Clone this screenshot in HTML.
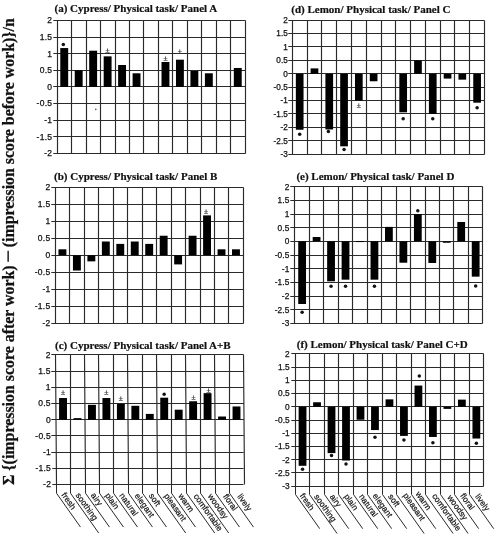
<!DOCTYPE html><html><head><meta charset="utf-8"><style>
*{margin:0;padding:0}
html,body{width:498px;height:550px;overflow:hidden;background:#fff}
svg{display:block;filter:blur(0.3px)}
.t{font-family:"Liberation Serif",serif;font-weight:bold;font-size:11px;fill:#111;stroke:#111;stroke-width:0.2px}
.k{font-family:"Liberation Sans",sans-serif;font-size:8.1px;fill:#111;stroke:#111;stroke-width:0.25px;text-anchor:end;letter-spacing:0.4px}
.x{font-family:"Liberation Sans",sans-serif;font-size:8.4px;fill:#111;stroke:#111;stroke-width:0.2px}
.pm{font-family:"Liberation Sans",sans-serif;font-size:7.5px;fill:#333;stroke:#333;stroke-width:0.2px;text-anchor:middle}
.y{font-family:"Liberation Serif",serif;font-weight:bold;font-size:15.9px;fill:#111;stroke:#111;stroke-width:0.25px}
</style></head><body><svg width="498" height="550" viewBox="0 0 498 550">
<rect width="498" height="550" fill="#fff"/>
<text x="54.5" y="12.1" class="t">(a) Cypress/ Physical task/ Panel A</text>
<path d="M53.30 20.50H245.50 M53.30 37.50H245.50 M53.30 53.50H245.50 M53.30 70.50H245.50 M53.30 86.50H245.50 M53.30 103.50H245.50 M53.30 120.50H245.50 M53.30 136.50H245.50 M53.30 153.50H245.50 M57.50 20.50L57.50 153.50 M71.50 20.50L71.50 153.50 M86.50 20.50L86.50 153.50 M100.50 20.50L100.50 153.50 M115.50 20.50L115.50 153.50 M129.50 20.50L129.50 153.50 M143.50 20.50L143.50 153.50 M158.50 20.50L158.50 153.50 M172.50 20.50L172.50 153.50 M187.50 20.50L187.50 153.50 M201.50 20.50L201.50 153.50 M216.50 20.50L216.50 153.50 M230.50 20.50L230.50 153.50 M245.50 20.50L245.50 153.50" stroke="#2a2a2a" stroke-width="1.15" fill="none"/>
<text x="52.25" y="23.30" class="k" style="letter-spacing:0.25px;font-size:8.5px">2</text>
<text x="52.25" y="39.90" class="k" style="letter-spacing:0.25px;font-size:8.5px">1.5</text>
<text x="52.25" y="56.50" class="k" style="letter-spacing:0.25px;font-size:8.5px">1</text>
<text x="52.25" y="73.10" class="k" style="letter-spacing:0.25px;font-size:8.5px">0.5</text>
<text x="52.25" y="89.70" class="k" style="letter-spacing:0.25px;font-size:8.5px">0</text>
<text x="52.25" y="106.30" class="k" style="letter-spacing:0.25px;font-size:8.5px">-0.5</text>
<text x="52.25" y="122.90" class="k" style="letter-spacing:0.25px;font-size:8.5px">-1</text>
<text x="52.25" y="139.50" class="k" style="letter-spacing:0.25px;font-size:8.5px">-1.5</text>
<text x="52.25" y="156.10" class="k" style="letter-spacing:0.25px;font-size:8.5px">-2</text>
<rect x="60.28" y="48.06" width="7.90" height="38.84" fill="#000"/>
<rect x="74.74" y="70.30" width="7.90" height="16.60" fill="#000"/>
<rect x="89.20" y="50.71" width="7.90" height="36.19" fill="#000"/>
<rect x="103.67" y="56.36" width="7.90" height="30.54" fill="#000"/>
<rect x="118.13" y="64.99" width="7.90" height="21.91" fill="#000"/>
<rect x="132.59" y="73.29" width="7.90" height="13.61" fill="#000"/>
<rect x="161.51" y="62.00" width="7.90" height="24.90" fill="#000"/>
<rect x="175.97" y="59.68" width="7.90" height="27.22" fill="#000"/>
<rect x="190.43" y="70.96" width="7.90" height="15.94" fill="#000"/>
<rect x="204.90" y="73.29" width="7.90" height="13.61" fill="#000"/>
<rect x="233.82" y="67.98" width="7.90" height="18.92" fill="#000"/>
<circle cx="63.33" cy="44.40" r="1.75" fill="#111"/>
<text x="107.62" y="53.00" class="pm">±</text>
<text x="165.46" y="60.90" class="pm">±</text>
<text x="179.92" y="53.60" class="pm">±</text>
<text x="54.0" y="180.1" class="t">(b) Cypress/ Physical task/ Panel B</text>
<path d="M51.30 187.50H243.50 M51.30 204.50H243.50 M51.30 221.50H243.50 M51.30 238.50H243.50 M51.30 255.50H243.50 M51.30 272.50H243.50 M51.30 289.50H243.50 M51.30 306.50H243.50 M51.30 323.50H243.50 M55.50 187.50L55.50 323.50 M69.50 187.50L69.50 323.50 M84.50 187.50L84.50 323.50 M98.50 187.50L98.50 323.50 M113.50 187.50L113.50 323.50 M127.50 187.50L127.50 323.50 M142.50 187.50L142.50 323.50 M156.50 187.50L156.50 323.50 M171.50 187.50L171.50 323.50 M185.50 187.50L185.50 323.50 M200.50 187.50L200.50 323.50 M214.50 187.50L214.50 323.50 M228.50 187.50L228.50 323.50 M243.50 187.50L243.50 323.50" stroke="#2a2a2a" stroke-width="1.15" fill="none"/>
<text x="50.45" y="190.20" class="k" style="letter-spacing:0.25px;font-size:8.5px">2</text>
<text x="50.45" y="207.16" class="k" style="letter-spacing:0.25px;font-size:8.5px">1.5</text>
<text x="50.45" y="224.13" class="k" style="letter-spacing:0.25px;font-size:8.5px">1</text>
<text x="50.45" y="241.09" class="k" style="letter-spacing:0.25px;font-size:8.5px">0.5</text>
<text x="50.45" y="258.05" class="k" style="letter-spacing:0.25px;font-size:8.5px">0</text>
<text x="50.45" y="275.01" class="k" style="letter-spacing:0.25px;font-size:8.5px">-0.5</text>
<text x="50.45" y="291.98" class="k" style="letter-spacing:0.25px;font-size:8.5px">-1</text>
<text x="50.45" y="308.94" class="k" style="letter-spacing:0.25px;font-size:8.5px">-1.5</text>
<text x="50.45" y="325.90" class="k" style="letter-spacing:0.25px;font-size:8.5px">-2</text>
<rect x="58.48" y="249.31" width="7.90" height="5.94" fill="#000"/>
<rect x="72.94" y="255.25" width="7.90" height="15.27" fill="#000"/>
<rect x="87.40" y="255.25" width="7.90" height="6.11" fill="#000"/>
<rect x="101.87" y="241.51" width="7.90" height="13.74" fill="#000"/>
<rect x="116.33" y="243.89" width="7.90" height="11.36" fill="#000"/>
<rect x="130.79" y="241.51" width="7.90" height="13.74" fill="#000"/>
<rect x="145.25" y="243.89" width="7.90" height="11.36" fill="#000"/>
<rect x="159.71" y="235.74" width="7.90" height="19.51" fill="#000"/>
<rect x="174.17" y="255.25" width="7.90" height="9.16" fill="#000"/>
<rect x="188.63" y="235.74" width="7.90" height="19.51" fill="#000"/>
<rect x="203.10" y="215.39" width="7.90" height="39.86" fill="#000"/>
<rect x="217.56" y="249.31" width="7.90" height="5.94" fill="#000"/>
<rect x="232.02" y="249.31" width="7.90" height="5.94" fill="#000"/>
<text x="206.05" y="213.80" class="pm">±</text>
<text x="55.0" y="348.7" class="t">(c) Cypress/ Physical task/ Panel A+B</text>
<path d="M51.30 354.50H243.50 M51.30 371.50H243.50 M51.30 387.50H243.50 M51.30 403.50H243.50 M51.30 419.50H243.50 M51.30 435.50H243.50 M51.30 452.50H243.50 M52.30 468.50H243.50 M52.30 484.50H243.50 M55.50 354.50L56.50 484.50 M70.50 354.50L70.50 484.50 M84.50 354.50L85.50 484.50 M98.50 354.50L99.50 484.50 M113.50 354.50L113.50 484.50 M127.50 354.50L128.50 484.50 M142.50 354.50L142.50 484.50 M156.50 354.50L157.50 484.50 M171.50 354.50L171.50 484.50 M185.50 354.50L186.50 484.50 M200.50 354.50L200.50 484.50 M214.50 354.50L215.50 484.50 M229.50 354.50L229.50 484.50 M243.50 354.50L244.50 484.50" stroke="#2a2a2a" stroke-width="1.15" fill="none"/>
<text x="50.65" y="357.70" class="k" style="letter-spacing:0.25px;font-size:8.5px">2</text>
<text x="50.71" y="373.91" class="k" style="letter-spacing:0.25px;font-size:8.5px">1.5</text>
<text x="50.77" y="390.12" class="k" style="letter-spacing:0.25px;font-size:8.5px">1</text>
<text x="50.84" y="406.34" class="k" style="letter-spacing:0.25px;font-size:8.5px">0.5</text>
<text x="50.90" y="422.55" class="k" style="letter-spacing:0.25px;font-size:8.5px">0</text>
<text x="50.96" y="438.76" class="k" style="letter-spacing:0.25px;font-size:8.5px">-0.5</text>
<text x="51.02" y="454.98" class="k" style="letter-spacing:0.25px;font-size:8.5px">-1</text>
<text x="51.09" y="471.19" class="k" style="letter-spacing:0.25px;font-size:8.5px">-1.5</text>
<text x="51.15" y="487.40" class="k" style="letter-spacing:0.25px;font-size:8.5px">-2</text>
<rect x="59.09" y="398.03" width="7.90" height="21.72" fill="#000"/>
<rect x="73.58" y="418.13" width="7.90" height="1.62" fill="#000"/>
<rect x="88.01" y="404.83" width="7.90" height="14.92" fill="#000"/>
<rect x="102.45" y="398.03" width="7.90" height="21.72" fill="#000"/>
<rect x="116.91" y="403.86" width="7.90" height="15.89" fill="#000"/>
<rect x="131.37" y="405.81" width="7.90" height="13.94" fill="#000"/>
<rect x="145.84" y="413.91" width="7.90" height="5.84" fill="#000"/>
<rect x="160.26" y="397.70" width="7.90" height="22.05" fill="#000"/>
<rect x="174.74" y="409.70" width="7.90" height="10.05" fill="#000"/>
<rect x="189.18" y="401.27" width="7.90" height="18.48" fill="#000"/>
<rect x="203.61" y="393.16" width="7.90" height="26.59" fill="#000"/>
<rect x="218.11" y="416.51" width="7.90" height="3.24" fill="#000"/>
<rect x="232.55" y="406.46" width="7.90" height="13.29" fill="#000"/>
<text x="62.97" y="395.30" class="pm">±</text>
<text x="106.34" y="395.30" class="pm">±</text>
<text x="120.81" y="401.00" class="pm">±</text>
<circle cx="164.16" cy="394.20" r="1.75" fill="#111"/>
<text x="193.58" y="400.40" class="pm">±</text>
<text x="208.50" y="392.70" class="pm">±</text>
<text x="61.05" y="495.13" class="x" transform="rotate(54.7 61.05 495.13)">fresh</text>
<text x="75.29" y="495.25" class="x" transform="rotate(54.7 75.29 495.25)">soothing</text>
<text x="90.54" y="495.37" class="x" transform="rotate(54.7 90.54 495.37)">airy</text>
<text x="104.78" y="495.49" class="x" transform="rotate(54.7 104.78 495.49)">plain</text>
<text x="119.03" y="495.61" class="x" transform="rotate(54.7 119.03 495.61)">natural</text>
<text x="134.27" y="495.73" class="x" transform="rotate(54.7 134.27 495.73)">elegant</text>
<text x="148.52" y="495.85" class="x" transform="rotate(54.7 148.52 495.85)">soft</text>
<text x="163.76" y="495.97" class="x" transform="rotate(54.7 163.76 495.97)">pleasant</text>
<text x="178.01" y="496.09" class="x" transform="rotate(54.7 178.01 496.09)">warm</text>
<text x="193.25" y="496.21" class="x" transform="rotate(54.7 193.25 496.21)">comfortable</text>
<text x="207.50" y="496.33" class="x" transform="rotate(54.7 207.50 496.33)">woodsy</text>
<text x="222.74" y="496.45" class="x" transform="rotate(54.7 222.74 496.45)">floral</text>
<text x="236.99" y="496.57" class="x" transform="rotate(54.7 236.99 496.57)">lively</text>
<path d="M56.50 484.60V493.20L80.48 527.07 M70.50 484.60V493.20L98.70 533.03 M85.50 484.60V493.20L109.48 527.07 M99.50 484.60V493.20L123.48 527.07 M113.50 484.60V493.20L137.48 527.07 M128.50 484.60V493.20L152.48 527.07 M142.50 484.60V493.20L166.48 527.07 M157.50 484.60V493.20L185.70 533.03 M171.50 484.60V493.20L195.48 527.07 M186.50 484.60V493.20L214.70 533.03 M200.50 484.60V493.20L228.70 533.03 M215.50 484.60V493.20L239.48 527.07 M229.50 484.60V493.20L253.48 527.07" stroke="#2a2a2a" stroke-width="1.0" fill="none"/>
<text x="291.3" y="13.1" class="t">(d) Lemon/ Physical task/ Panel C</text>
<path d="M288.30 20.50H484.50 M288.30 33.50H484.50 M288.30 46.50H484.50 M288.30 60.50H484.50 M288.30 73.50H484.50 M288.30 87.50H484.50 M288.30 100.50H484.50 M288.30 113.50H484.50 M288.30 127.50H484.50 M288.30 140.50H484.50 M288.30 154.50H484.50 M292.50 20.50L292.50 154.50 M307.50 20.50L307.50 154.50 M321.50 20.50L321.50 154.50 M336.50 20.50L336.50 154.50 M351.50 20.50L351.50 154.50 M366.50 20.50L366.50 154.50 M381.50 20.50L381.50 154.50 M395.50 20.50L395.50 154.50 M410.50 20.50L410.50 154.50 M425.50 20.50L425.50 154.50 M440.50 20.50L440.50 154.50 M454.50 20.50L454.50 154.50 M469.50 20.50L469.50 154.50 M484.50 20.50L484.50 154.50" stroke="#2a2a2a" stroke-width="1.15" fill="none"/>
<text x="287.85" y="23.00" class="k" style="letter-spacing:0.05px;font-size:8.2px">2</text>
<text x="287.85" y="36.39" class="k" style="letter-spacing:0.05px;font-size:8.2px">1.5</text>
<text x="287.85" y="49.78" class="k" style="letter-spacing:0.05px;font-size:8.2px">1</text>
<text x="287.85" y="63.17" class="k" style="letter-spacing:0.05px;font-size:8.2px">0.5</text>
<text x="287.85" y="76.56" class="k" style="letter-spacing:0.05px;font-size:8.2px">0</text>
<text x="287.85" y="89.95" class="k" style="letter-spacing:0.05px;font-size:8.2px">-0.5</text>
<text x="287.85" y="103.34" class="k" style="letter-spacing:0.05px;font-size:8.2px">-1</text>
<text x="287.85" y="116.73" class="k" style="letter-spacing:0.05px;font-size:8.2px">-1.5</text>
<text x="287.85" y="130.12" class="k" style="letter-spacing:0.05px;font-size:8.2px">-2</text>
<text x="287.85" y="143.51" class="k" style="letter-spacing:0.05px;font-size:8.2px">-2.5</text>
<text x="287.85" y="156.90" class="k" style="letter-spacing:0.05px;font-size:8.2px">-3</text>
<rect x="295.84" y="73.76" width="7.70" height="55.97" fill="#000"/>
<rect x="310.63" y="68.40" width="7.70" height="5.36" fill="#000"/>
<rect x="325.41" y="73.76" width="7.70" height="55.70" fill="#000"/>
<rect x="340.20" y="73.76" width="7.70" height="72.57" fill="#000"/>
<rect x="354.98" y="73.76" width="7.70" height="26.78" fill="#000"/>
<rect x="369.77" y="73.76" width="7.70" height="7.50" fill="#000"/>
<rect x="399.33" y="73.76" width="7.70" height="38.56" fill="#000"/>
<rect x="414.12" y="60.37" width="7.70" height="13.39" fill="#000"/>
<rect x="428.90" y="73.76" width="7.70" height="40.17" fill="#000"/>
<rect x="443.69" y="73.76" width="7.70" height="4.82" fill="#000"/>
<rect x="458.47" y="73.76" width="7.70" height="5.89" fill="#000"/>
<rect x="473.26" y="73.76" width="7.70" height="28.92" fill="#000"/>
<circle cx="299.69" cy="134.20" r="1.75" fill="#111"/>
<circle cx="328.36" cy="131.60" r="1.75" fill="#111"/>
<circle cx="344.05" cy="149.60" r="1.75" fill="#111"/>
<text x="358.83" y="108.10" class="pm">±</text>
<circle cx="403.18" cy="118.70" r="1.75" fill="#111"/>
<circle cx="432.75" cy="118.70" r="1.75" fill="#111"/>
<circle cx="477.11" cy="107.80" r="1.75" fill="#111"/>
<text x="296.4" y="180.2" class="t">(e) Lemon/ Physical task/ Panel D</text>
<path d="M290.30 186.50H482.50 M290.30 200.50H482.50 M290.30 214.50H482.50 M290.30 227.50H482.50 M290.30 241.50H482.50 M290.30 255.50H482.50 M290.30 268.50H482.50 M290.30 282.50H482.50 M290.30 296.50H482.50 M290.30 309.50H482.50 M290.30 323.50H482.50 M294.50 186.50L294.50 323.50 M309.50 186.50L309.50 323.50 M323.50 186.50L323.50 323.50 M338.50 186.50L338.50 323.50 M352.50 186.50L352.50 323.50 M367.50 186.50L367.50 323.50 M381.50 186.50L381.50 323.50 M396.50 186.50L396.50 323.50 M410.50 186.50L410.50 323.50 M425.50 186.50L425.50 323.50 M439.50 186.50L439.50 323.50 M453.50 186.50L453.50 323.50 M468.50 186.50L468.50 323.50 M482.50 186.50L482.50 323.50" stroke="#2a2a2a" stroke-width="1.15" fill="none"/>
<text x="289.40" y="189.50" class="k" style="letter-spacing:0.1px;font-size:8.3px">2</text>
<text x="289.40" y="203.17" class="k" style="letter-spacing:0.1px;font-size:8.3px">1.5</text>
<text x="289.40" y="216.84" class="k" style="letter-spacing:0.1px;font-size:8.3px">1</text>
<text x="289.40" y="230.51" class="k" style="letter-spacing:0.1px;font-size:8.3px">0.5</text>
<text x="289.40" y="244.18" class="k" style="letter-spacing:0.1px;font-size:8.3px">0</text>
<text x="289.40" y="257.85" class="k" style="letter-spacing:0.1px;font-size:8.3px">-0.5</text>
<text x="289.40" y="271.52" class="k" style="letter-spacing:0.1px;font-size:8.3px">-1</text>
<text x="289.40" y="285.19" class="k" style="letter-spacing:0.1px;font-size:8.3px">-1.5</text>
<text x="289.40" y="298.86" class="k" style="letter-spacing:0.1px;font-size:8.3px">-2</text>
<text x="289.40" y="312.53" class="k" style="letter-spacing:0.1px;font-size:8.3px">-2.5</text>
<text x="289.40" y="326.20" class="k" style="letter-spacing:0.1px;font-size:8.3px">-3</text>
<rect x="298.23" y="241.38" width="7.80" height="62.61" fill="#000"/>
<rect x="312.69" y="237.01" width="7.80" height="4.37" fill="#000"/>
<rect x="327.15" y="241.38" width="7.80" height="39.92" fill="#000"/>
<rect x="341.62" y="241.38" width="7.80" height="38.28" fill="#000"/>
<rect x="356.08" y="241.08" width="7.80" height="1.00" fill="#000"/>
<rect x="370.54" y="241.38" width="7.80" height="38.28" fill="#000"/>
<rect x="385.00" y="226.89" width="7.80" height="14.49" fill="#000"/>
<rect x="399.46" y="241.38" width="7.80" height="21.33" fill="#000"/>
<rect x="413.92" y="214.04" width="7.80" height="27.34" fill="#000"/>
<rect x="428.38" y="241.38" width="7.80" height="21.60" fill="#000"/>
<rect x="442.85" y="241.38" width="7.80" height="1.37" fill="#000"/>
<rect x="457.31" y="221.97" width="7.80" height="19.41" fill="#000"/>
<rect x="471.77" y="241.38" width="7.80" height="35.27" fill="#000"/>
<circle cx="302.13" cy="312.30" r="1.75" fill="#111"/>
<circle cx="331.05" cy="286.20" r="1.75" fill="#111"/>
<circle cx="345.52" cy="286.20" r="1.75" fill="#111"/>
<circle cx="374.44" cy="286.20" r="1.75" fill="#111"/>
<circle cx="417.82" cy="210.80" r="1.75" fill="#111"/>
<circle cx="475.67" cy="286.00" r="1.75" fill="#111"/>
<text x="296.8" y="348.4" class="t">(f) Lemon/ Physical task/ Panel C+D</text>
<path d="M291.30 353.50H483.50 M291.30 367.50H483.50 M291.30 380.50H483.50 M291.30 393.50H483.50 M291.30 406.50H483.50 M291.30 420.50H483.50 M291.30 433.50H483.50 M291.30 446.50H483.50 M291.30 459.50H483.50 M291.30 472.50H483.50 M291.30 486.50H483.50 M295.50 353.50L295.50 486.50 M309.50 353.50L309.50 486.50 M324.50 353.50L324.50 486.50 M338.50 353.50L338.50 486.50 M353.50 353.50L353.50 486.50 M367.50 353.50L367.50 486.50 M382.50 353.50L382.50 486.50 M396.50 353.50L396.50 486.50 M411.50 353.50L411.50 486.50 M425.50 353.50L425.50 486.50 M440.50 353.50L440.50 486.50 M454.50 353.50L454.50 486.50 M469.50 353.50L469.50 486.50 M483.50 353.50L483.50 486.50" stroke="#2a2a2a" stroke-width="1.15" fill="none"/>
<text x="289.80" y="356.60" class="k" style="letter-spacing:0.1px;font-size:8.3px">2</text>
<text x="289.80" y="369.84" class="k" style="letter-spacing:0.1px;font-size:8.3px">1.5</text>
<text x="289.80" y="383.08" class="k" style="letter-spacing:0.1px;font-size:8.3px">1</text>
<text x="289.80" y="396.32" class="k" style="letter-spacing:0.1px;font-size:8.3px">0.5</text>
<text x="289.80" y="409.56" class="k" style="letter-spacing:0.1px;font-size:8.3px">0</text>
<text x="289.80" y="422.80" class="k" style="letter-spacing:0.1px;font-size:8.3px">-0.5</text>
<text x="289.80" y="436.04" class="k" style="letter-spacing:0.1px;font-size:8.3px">-1</text>
<text x="289.80" y="449.28" class="k" style="letter-spacing:0.1px;font-size:8.3px">-1.5</text>
<text x="289.80" y="462.52" class="k" style="letter-spacing:0.1px;font-size:8.3px">-2</text>
<text x="289.80" y="475.76" class="k" style="letter-spacing:0.1px;font-size:8.3px">-2.5</text>
<text x="289.80" y="489.00" class="k" style="letter-spacing:0.1px;font-size:8.3px">-3</text>
<rect x="298.64" y="406.76" width="7.80" height="59.05" fill="#000"/>
<rect x="313.13" y="402.26" width="7.80" height="4.50" fill="#000"/>
<rect x="327.61" y="406.76" width="7.80" height="46.34" fill="#000"/>
<rect x="342.10" y="406.76" width="7.80" height="53.75" fill="#000"/>
<rect x="356.58" y="406.76" width="7.80" height="12.98" fill="#000"/>
<rect x="371.07" y="406.76" width="7.80" height="23.30" fill="#000"/>
<rect x="385.55" y="399.35" width="7.80" height="7.41" fill="#000"/>
<rect x="400.03" y="406.76" width="7.80" height="29.13" fill="#000"/>
<rect x="414.52" y="385.58" width="7.80" height="21.18" fill="#000"/>
<rect x="429.00" y="406.76" width="7.80" height="30.19" fill="#000"/>
<rect x="443.49" y="406.76" width="7.80" height="2.12" fill="#000"/>
<rect x="457.97" y="399.61" width="7.80" height="7.15" fill="#000"/>
<rect x="472.46" y="406.76" width="7.80" height="31.78" fill="#000"/>
<circle cx="302.54" cy="469.20" r="1.75" fill="#111"/>
<circle cx="331.51" cy="455.40" r="1.75" fill="#111"/>
<circle cx="346.00" cy="463.90" r="1.75" fill="#111"/>
<circle cx="374.97" cy="437.30" r="1.75" fill="#111"/>
<circle cx="403.93" cy="439.90" r="1.75" fill="#111"/>
<circle cx="419.32" cy="376.00" r="1.75" fill="#111"/>
<circle cx="432.90" cy="442.70" r="1.75" fill="#111"/>
<circle cx="476.36" cy="443.20" r="1.75" fill="#111"/>
<text x="299.45" y="495.75" class="x" transform="rotate(54.7 299.45 495.75)">fresh</text>
<text x="313.84" y="496.82" class="x" transform="rotate(54.7 313.84 496.82)">soothing</text>
<text x="329.42" y="496.78" class="x" transform="rotate(54.7 329.42 496.78)">airy</text>
<text x="343.83" y="496.49" class="x" transform="rotate(54.7 343.83 496.49)">plain</text>
<text x="358.66" y="496.60" class="x" transform="rotate(54.7 358.66 496.60)">natural</text>
<text x="372.37" y="495.83" class="x" transform="rotate(54.7 372.37 495.83)">elegant</text>
<text x="387.83" y="496.49" class="x" transform="rotate(54.7 387.83 496.49)">soft</text>
<text x="402.66" y="495.59" class="x" transform="rotate(54.7 402.66 495.59)">pleasant</text>
<text x="415.32" y="494.00" class="x" transform="rotate(54.7 415.32 494.00)">warm</text>
<text x="431.64" y="495.91" class="x" transform="rotate(54.7 431.64 495.91)">comfortable</text>
<text x="447.10" y="497.42" class="x" transform="rotate(54.7 447.10 497.42)">woodsy</text>
<text x="459.95" y="495.79" class="x" transform="rotate(54.7 459.95 495.79)">floral</text>
<text x="474.83" y="496.49" class="x" transform="rotate(54.7 474.83 496.49)">lively</text>
<path d="M295.50 486.20V494.50L319.71 528.70 M309.50 486.20V494.50L337.12 533.51 M324.50 486.20V494.50L348.71 528.70 M338.50 486.20V494.50L362.71 528.70 M353.50 486.20V494.50L377.71 528.70 M367.50 486.20V494.50L391.71 528.70 M382.50 486.20V494.50L406.71 528.70 M396.50 486.20V494.50L424.12 533.51 M411.50 486.20V494.50L435.71 528.70 M425.50 486.20V494.50L453.12 533.51 M440.50 486.20V494.50L468.12 533.51 M454.50 486.20V494.50L478.71 528.70 M469.50 486.20V494.50L493.71 528.70" stroke="#2a2a2a" stroke-width="1.0" fill="none"/>
<circle cx="95.8" cy="109.4" r="0.8" fill="#555"/>
<text x="0" y="0" class="y" transform="translate(14.1 485.0) rotate(-90)">Σ {(impression score after work)</text>
<text x="0" y="0" class="y" transform="translate(13.8 247.3) rotate(-90)">(impression score before work)}/n</text>
<rect x="7.4" y="250.8" width="1.5" height="11" fill="#222"/>
</svg></body></html>
